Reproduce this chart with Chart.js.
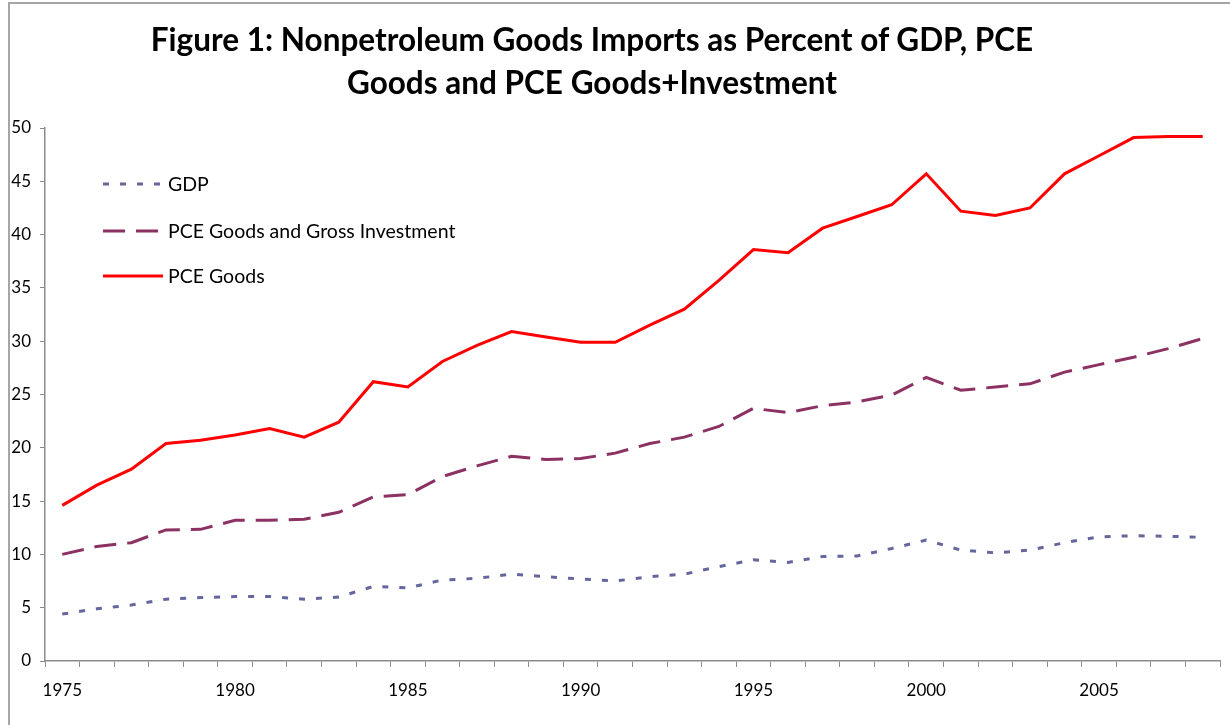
<!DOCTYPE html>
<html>
<head>
<meta charset="utf-8">
<script src="https://cdn.jsdelivr.net/npm/chart.js@4/dist/chart.umd.min.js"></script>
<style>
    html, body { margin: 0; padding: 0; background: #fff; }
    #wrap { position: relative; width: 1230px; height: 725px; overflow: hidden; }
    #frame { position: absolute; left: 8px; top: 2px; width: 1300px; height: 800px;
             border-top: 2px solid #a6a6a6; border-left: 2px solid #a6a6a6; }
    #title { position: absolute; left: 0; top: 18px; width: 1184px; text-align: center;
             font-family: Lato, sans-serif; font-weight: bold; font-size: 31.5px; line-height: 43px; color: #000; }
    canvas { position: absolute; left: 0; top: 0; }
</style>
</head>
<body>
<div id="wrap">
    <div id="frame"></div>
    <canvas id="chart" width="1230" height="725"></canvas>
    <div id="title">Figure 1: Nonpetroleum Goods Imports as Percent of GDP, PCE<br>Goods and PCE Goods+Investment</div>
</div>
<script>
    // years on the category axis
    const years = [];
    for (let y = 1975; y <= 2008; y++) years.push(String(y));

    // percent of GDP
    const gdp = [4.4, 4.9, 5.25, 5.8, 5.95, 6.05, 6.05, 5.8, 6.0, 7.0, 6.85,
                 7.6, 7.75, 8.15, 7.9, 7.7, 7.5, 7.9, 8.15, 8.85, 9.5, 9.25,
                 9.8, 9.85, 10.55, 11.35, 10.4, 10.15, 10.4, 11.1, 11.65, 11.75, 11.7, 11.6];

    // percent of PCE goods + gross investment
    const pceInv = [10.0, 10.75, 11.1, 12.3, 12.35, 13.2, 13.2, 13.3, 13.95, 15.4, 15.6,
                    17.3, 18.3, 19.2, 18.9, 19.0, 19.5, 20.4, 21.0, 22.0, 23.7, 23.3,
                    23.95, 24.3, 24.95, 26.6, 25.4, 25.7, 26.0, 27.1, 27.8, 28.5, 29.3, 30.25];

    // percent of PCE goods
    const pceGoods = [14.6, 16.5, 18.0, 20.4, 20.7, 21.2, 21.8, 21.0, 22.4, 26.2, 25.7,
                      28.1, 29.6, 30.9, 30.4, 29.9, 29.9, 31.5, 33.0, 35.7, 38.6, 38.3,
                      40.6, 41.7, 42.8, 45.7, 42.2, 41.8, 42.5, 45.7, 47.4, 49.1, 49.2, 49.2];

    const yTicks = [0, 5, 10, 15, 20, 25, 30, 35, 40, 45, 50];

    const axisColor = '#8c8c8c';

    // legend drawn inside the plot, top left
    const insideLegend = {
        id: 'insideLegend',
        afterDraw(chart) {
            const ctx = chart.ctx;
            const rows = [184, 231, 276];
            ctx.save();
            chart.data.datasets.forEach((ds, i) => {
                const y = rows[i];
                ctx.beginPath();
                ctx.strokeStyle = ds.borderColor;
                ctx.lineWidth = ds.borderWidth;
                ctx.setLineDash(ds.borderDash || []);
                ctx.moveTo(103, y);
                ctx.lineTo(163, y);
                ctx.stroke();
                ctx.setLineDash([]);
                ctx.fillStyle = '#000';
                ctx.font = '19.5px Lato, sans-serif';
                ctx.textAlign = 'left';
                ctx.textBaseline = 'middle';
                ctx.fillText(ds.label, 168, y + 1);
            });
            ctx.restore();
        }
    };

    new Chart(document.getElementById('chart'), {
        type: 'line',
        data: {
            labels: years,
            datasets: [
                {
                    label: 'GDP',
                    data: gdp,
                    borderColor: '#66669e',
                    borderWidth: 3,
                    borderDash: [6, 11],
                    pointRadius: 0,
                    tension: 0
                },
                {
                    label: 'PCE Goods and Gross Investment',
                    data: pceInv,
                    borderColor: '#8c3262',
                    borderWidth: 3,
                    borderDash: [22, 11],
                    pointRadius: 0,
                    tension: 0
                },
                {
                    label: 'PCE Goods',
                    data: pceGoods,
                    borderColor: '#ff0000',
                    borderWidth: 3,
                    pointRadius: 0,
                    tension: 0
                }
            ]
        },
        options: {
            responsive: false,
            animation: false,
            layout: { padding: { top: 128, right: 10, bottom: 0, left: 0 } },
            plugins: {
                legend: { display: false },
                title: { display: false },
                tooltip: { enabled: false }
            },
            scales: {
                x: {
                    offset: true,
                    grid: {
                        offset: true,
                        drawOnChartArea: false,
                        drawTicks: true,
                        tickLength: 6,
                        color: axisColor
                    },
                    border: { color: axisColor, width: 1.5 },
                    ticks: {
                        autoSkip: false,
                        maxRotation: 0,
                        padding: 13,
                        color: '#000',
                        font: { family: 'Lato, sans-serif', size: 17 },
                        callback: function(val, idx) {
                            return idx % 5 === 0 ? years[idx] : '';
                        }
                    },
                    afterFit: (scale) => { scale.height = 64; }
                },
                y: {
                    min: 0,
                    max: 50,
                    afterBuildTicks: (scale) => {
                        scale.ticks = yTicks.map(v => ({ value: v }));
                    },
                    grid: {
                        drawOnChartArea: false,
                        drawTicks: true,
                        tickLength: 5,
                        color: axisColor
                    },
                    border: { color: axisColor, width: 1.5 },
                    ticks: {
                        padding: 9,
                        color: '#000',
                        font: { family: 'Lato, sans-serif', size: 17 }
                    },
                    afterFit: (scale) => { scale.width = 45; }
                }
            }
        },
        plugins: [insideLegend]
    });
</script>
</body>
</html>
